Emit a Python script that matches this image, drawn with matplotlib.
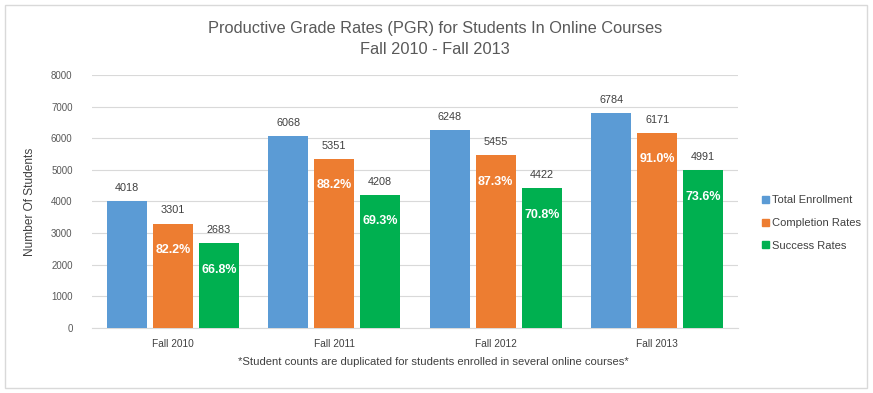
import matplotlib
matplotlib.use("Agg")
import matplotlib.pyplot as plt
import matplotlib.patches as mpatches
import numpy as np

terms = ["Fall 2010", "Fall 2011", "Fall 2012", "Fall 2013"]
enrollment = [4018, 6068, 6248, 6784]
completion = [3301, 5351, 5455, 6171]
success = [2683, 4208, 4422, 4991]
completion_pct = ["82.2%", "88.2%", "87.3%", "91.0%"]
success_pct = ["66.8%", "69.3%", "70.8%", "73.6%"]
series_names = ["Total Enrollment", "Completion Rates", "Success Rates"]
colors = ["#5B9BD5", "#ED7D31", "#00B050"]

plt.rcParams["font.family"] = ["Liberation Sans", "DejaVu Sans"]

fig = plt.figure(figsize=(8.73, 3.93), dpi=100)
ax = fig.add_axes([0.1054, 0.1654, 0.74, 0.6438])

# outer chart border
fig.add_artist(mpatches.Rectangle((5 / 873, 5 / 393), 862 / 873, 383 / 393,
                                  transform=fig.transFigure, fill=False,
                                  edgecolor="#D9D9D9", linewidth=1))

x = np.arange(len(terms))
w = 0.248
off = 0.285
series = [enrollment, completion, success]
for i, (vals, c) in enumerate(zip(series, colors)):
    bars = ax.bar(x + (i - 1) * off, vals, w, color=c, zorder=3)
    for b, v in zip(bars, vals):
        ax.annotate(str(v), (b.get_x() + b.get_width() / 2, v),
                    xytext=(0, 9.5), textcoords="offset points",
                    ha="center", va="center", fontsize=7.8, color="#404040")

# percentage labels inside the completion / success bars
for vals, labels, k in [(completion, completion_pct, 0), (success, success_pct, 1)]:
    for xi, v, lab in zip(x, vals, labels):
        ax.annotate(lab, (xi + k * off, v), xytext=(0, -19),
                    textcoords="offset points", ha="center", va="center",
                    fontsize=9, fontweight="bold", color="white", zorder=5)

ax.set_xlim(-0.5, 3.5)
ax.set_ylim(0, 8000)
ax.set_yticks(np.arange(0, 8001, 1000))
ax.set_xticks(x)
ax.set_xticklabels(terms)
ax.grid(axis="y", color="#D9D9D9", linewidth=0.8, zorder=0)
ax.tick_params(axis="y", length=0, pad=14, labelsize=7, labelcolor="#595959")
ax.tick_params(axis="x", length=0, pad=8, labelsize=7.3, labelcolor="#404040")
for s in ["top", "right", "left"]:
    ax.spines[s].set_visible(False)
ax.spines["bottom"].set_color("#D9D9D9")

fig.text(30 / 873, 1 - 202 / 393, "Number Of Students", rotation=90,
         ha="center", va="center", fontsize=8.6, color="#404040")

fig.text(435 / 873, 1 - 28 / 393, "Productive Grade Rates (PGR) for Students In Online Courses",
         ha="center", va="center", fontsize=11.8, color="#595959")
fig.text(435 / 873, 1 - 50 / 393, "Fall 2010 - Fall 2013",
         ha="center", va="center", fontsize=11.8, color="#595959")

fig.text(433 / 873, 1 - 362 / 393,
         "*Student counts are duplicated for students enrolled in several online courses*",
         ha="center", va="center", fontsize=8.1, color="#404040")

handles = [mpatches.Patch(color=c) for c in colors]
fig.legend(handles, series_names, loc="center left",
           bbox_to_anchor=(752 / 873, 1 - 223 / 393), frameon=False,
           fontsize=8, handlelength=0.6, handleheight=0.6, handletextpad=0.3,
           labelspacing=1.15, labelcolor="#404040")

fig.savefig("out.png", dpi=100)
